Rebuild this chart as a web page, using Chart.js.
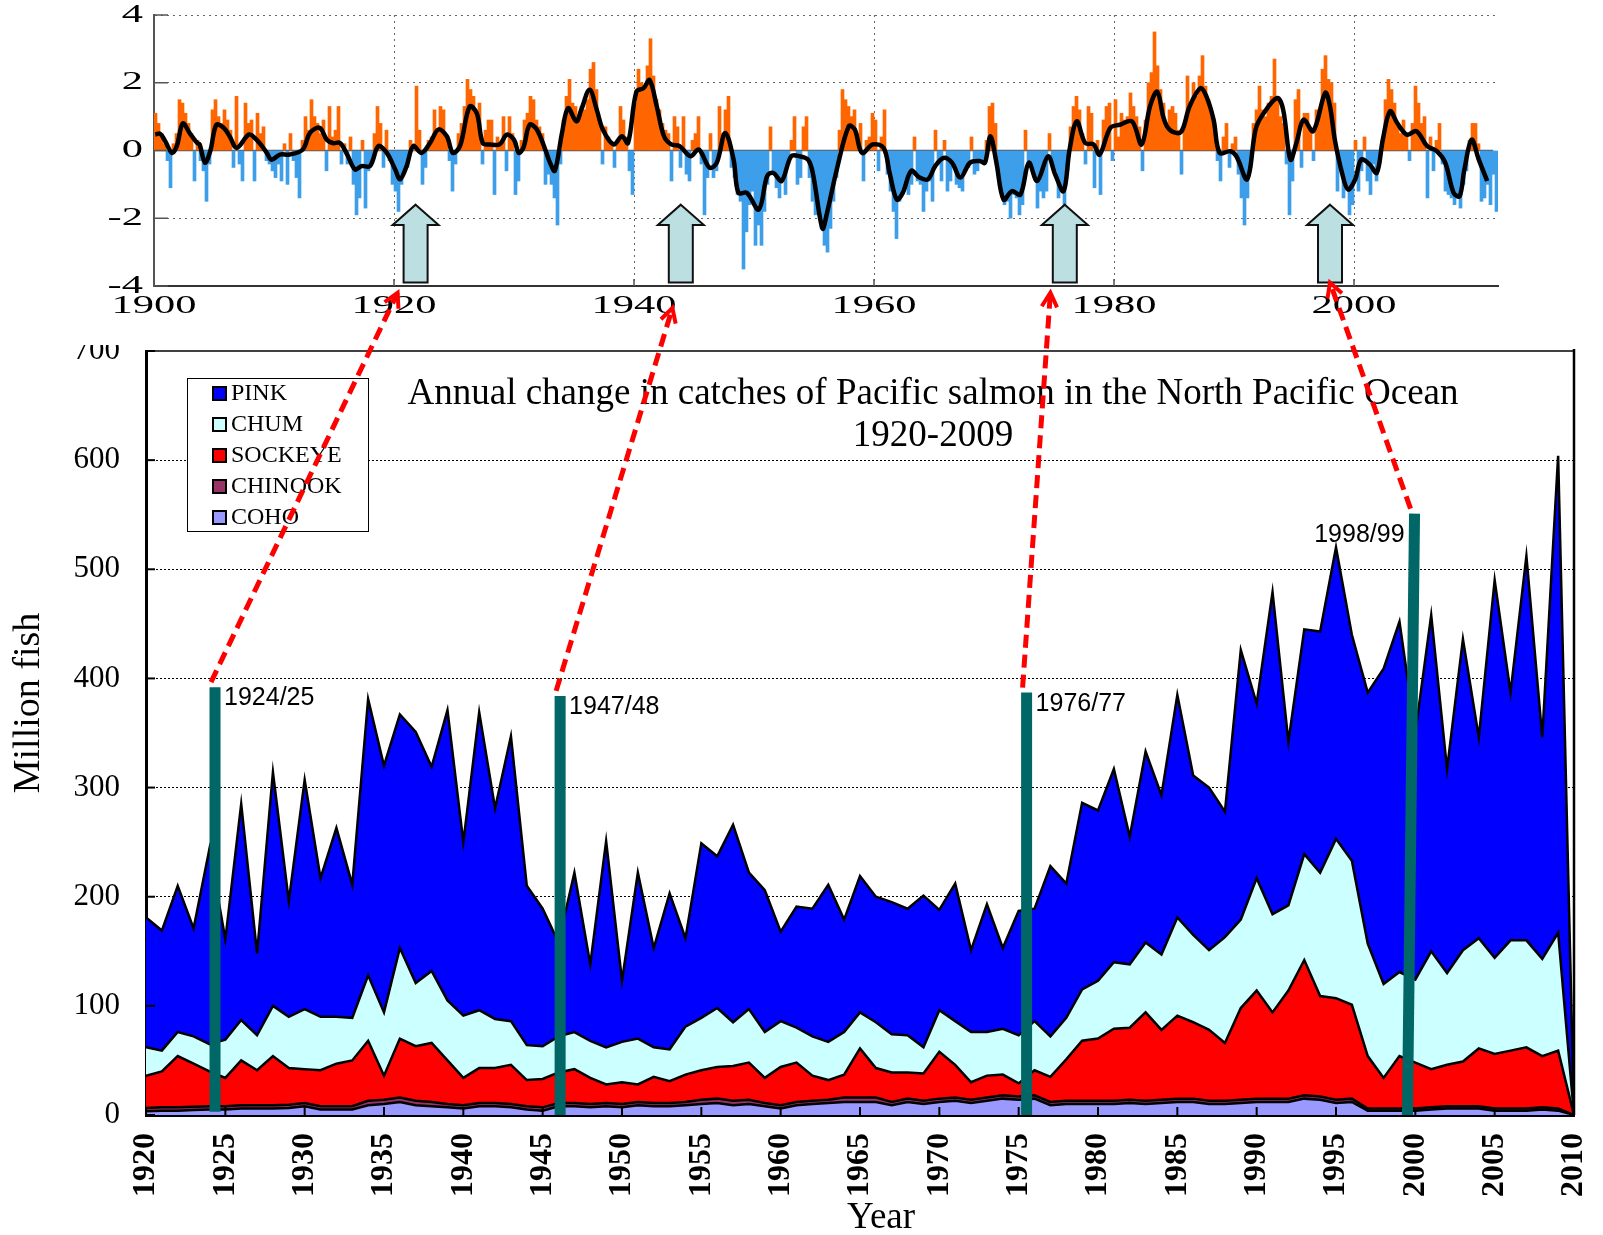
<!DOCTYPE html>
<html>
<head>
<meta charset="utf-8">
<script src="https://cdn.jsdelivr.net/npm/chart.js"></script>
<style>
  html, body { margin: 0; padding: 0; background: #fff; }
  body { width: 1603px; height: 1235px; position: relative; overflow: hidden; }
  #pdo { position: absolute; left: 0; top: 0; }
  #catch { position: absolute; left: 0; top: 345px; }
  #overlay { position: absolute; left: 0; top: 0; pointer-events: none; }
</style>
</head>
<body>
<canvas id="pdo" width="1603" height="330"></canvas>
<canvas id="catch" width="1603" height="890"></canvas>
<canvas id="overlay" width="1603" height="1235"></canvas>
<script>
// ---- PDO index (top panel): 4 values per year, 1900-2011
const pdoFirstYear = 1900;
const pdoQuarterly = [
  1.1, 0.8, 0.5, 0.2,   -0.3, -1.1, 0.2, 0.5,   1.5, 1.4, 1.1, 0.8,   0.5, -0.9, 0.3, -0.3,   -0.6, -1.5, -0.4, 1.2,
  1.5, 1.0, 0.8, 1.2,   0.9, 0.6, -0.5, 1.6,   -0.4, -0.9, 1.4, 0.8,   0.9, -0.9, 1.1, 0.5,   0.7, -0.3, -0.4, -0.6,
  -0.8, -0.4, -0.9, 0.2,   -1.0, 0.5, -0.3, -0.8,   -1.4, 0.3, 1.0, 0.6,   1.5, 1.0, 0.8, 0.5,   0.9, -0.6, 1.3, 0.4,
  0.6, 1.3, -0.4, 0.2,   -0.4, 0.4, -1.0, -1.9,   -1.4, 0.3, -1.7, -0.6,   -0.4, 0.5, 1.3, 0.8,   -0.5, 0.6, -0.3, -1.0,
  -1.2, -1.8, -1.0, -0.6,   -0.5, 0.3, 0.0, 1.9,   0.6, -1.0, -0.5, 0.3,   0.4, 1.2, 0.6, 1.3,   1.2, 0.4, -0.3, -1.2,
  -0.4, 0.5, 0.8, 1.3,   2.1, 1.8, 1.6, 1.0,   1.4, -0.4, 0.6, 0.9,   0.9, -1.3, 0.4, 0.2,   1.0, -0.6, 1.0, 0.5,
  -1.3, -0.9, 0.3, 0.9,   1.1, 1.6, 1.5, 0.9,   0.7, 0.5, -1.0, -0.7,   -1.0, -1.4, -2.2, -0.4,   0.9, 1.6, 2.1, 1.4,
  1.3, 0.9, 1.3, 1.2,   1.5, 2.4, 2.6, 1.8,   0.9, -0.4, 0.7, 0.4,   0.2, -0.5, 0.3, 1.3,   0.9, 0.4, -0.6, -1.3,
  1.4, 2.4, 2.0, 1.8,   2.5, 3.3, 2.2, 1.5,   1.2, 0.8, 0.6, 0.5,   -0.9, 1.0, 0.7, -0.5,   1.0, -0.7, -0.9, 0.3,
  0.5, 1.0, -0.4, -1.9,   -0.8, 0.5, -0.8, -0.6,   1.3, 0.5, 1.2, 1.6,   -0.5, -0.8, -1.3, -1.5,   -3.5, -2.4, -1.6, -1.2,
  -2.8, -2.2, -2.8, -1.8,   -1.0, 0.7, -0.6, -1.1,   -1.4, -0.9, -1.3, -0.4,   0.3, 1.0, -1.0, -0.8,   0.7, 1.0, -0.8, -1.5,
  -1.9, -1.6, -2.3, -2.8,   -3.0, -2.3, -1.5, -0.8,   0.6, 1.8, 1.5, 1.3,   1.0, 1.2, 0.5, 0.8,   -0.9, 0.3, 0.4, 1.1,
  0.9, -0.6, 0.4, 1.2,   -0.7, -1.2, -1.8, -2.6,   -1.5, -1.3, -1.0, -1.3,   -1.0, 0.4, -0.9, -1.0,   -1.8, -1.2, -0.9, -1.5,
  0.6, -0.4, -0.9, 0.3,   -1.2, -0.9, -0.4, -1.0,   -1.1, -1.2, -0.6, -0.5,   0.4, -0.7, -0.6, -0.3,   -0.4, 0.3, 1.3, 1.4,
  0.8, -0.7, -1.2, -1.6,   -1.5, -2.0, -1.3, -1.4,   -1.9, -1.6, 0.6, -0.4,   -0.5, -0.7, -1.7, -1.2,   -1.4, -1.2, 0.5, -0.4,
  -0.6, -1.4, -1.1, -1.8,   -0.6, 0.7, 1.3, 1.6,   1.2, 0.5, -0.4, 1.3,   1.1, -1.1, 0.3, -1.3,   0.9, 1.3, 1.4, -0.3,
  1.5, 0.4, 1.1, 0.9,   1.0, 1.7, 1.3, 1.0,   0.7, -0.6, 0.9, 2.0,   2.3, 3.5, 2.5, 1.8,   1.4, 0.8, 1.2, 1.3,
  1.1, 0.6, -0.7, 0.8,   2.2, 1.3, 2.0, 1.6,   2.2, 2.8, 1.9, 1.5,   1.0, 0.5, -0.3, -0.9,   0.4, 0.8, -0.5, 0.2,
  0.4, -0.7, -1.4, -2.2,   -1.4, -0.5, 0.8, 1.2,   1.9, 1.2, 1.0, 1.4,   1.6, 2.7, 1.5, 1.0,   0.8, -0.4, -1.9, -0.9,
  1.5, 1.8, -0.5, 1.1,   1.1, 0.6, -0.3, 1.2,   1.2, 2.4, 2.8, 2.1,   2.0, 1.4, -1.2, -0.5,   -1.4, -1.0, -1.9, -1.6,
  0.3, -1.2, -0.6, 0.4,   -0.9, -1.3, -0.4, -0.9,   -0.4, 0.3, 1.5, 2.1,   1.8, 1.4, 0.8, 0.5,   0.9, 0.5, -0.3, 0.8,
  1.9, 1.4, 0.8, 1.0,   -1.4, 0.4, -0.6, 0.3,   0.8, -0.4, -1.2, -1.3,   -1.4, -1.6, -1.4, -1.7,   -1.0, -0.6, 0.3, 0.8,
  0.8, 0.2, -1.5, -1.4,   -1.0, -1.6, -0.7, -1.8
];

// smoothed PDO curve (black line)
const pdoSmoothYears = [
  1900.1, 1900.5, 1900.9, 1901.5, 1901.9, 1902.4, 1903.0, 1903.6, 1903.8, 1904.25, 1904.7, 1905.2, 1905.8, 1906.3, 1906.9,
  1907.9, 1908.4, 1909.0, 1909.4, 1909.8, 1910.5, 1911.3, 1912.4, 1913.0, 1913.8, 1914.4, 1914.9, 1915.5, 1916.1, 1916.75,
  1917.3, 1918.0, 1918.7, 1919.4, 1920.1, 1920.5, 1921.05, 1921.6, 1922.3, 1923.0, 1923.7, 1924.4, 1924.9, 1925.5, 1926.3,
  1926.9, 1927.4, 1928.0, 1928.8, 1929.4, 1930.0, 1930.4, 1930.8, 1931.3, 1931.9, 1932.6, 1933.0, 1933.4, 1934.0, 1934.5,
  1935.2, 1935.6, 1936.3, 1936.9, 1937.4, 1938.3, 1939.0, 1939.5, 1940.2, 1940.8, 1941.3, 1941.9, 1942.5, 1943.1, 1943.8,
  1944.7, 1945.4, 1946.3, 1946.9, 1947.6, 1948.3, 1948.7, 1949.4, 1950.4, 1951.1, 1951.6, 1952.3, 1953.1, 1953.8, 1954.5,
  1954.9, 1955.7, 1956.05, 1956.9, 1957.9, 1958.4, 1959.0, 1959.9, 1960.8, 1961.3, 1961.9, 1962.4, 1963.1, 1963.8, 1964.5,
  1965.1, 1965.8, 1966.5, 1967.2, 1968.0, 1968.8, 1969.25, 1969.7, 1970.2, 1970.8, 1971.5, 1972.2, 1972.9, 1973.6, 1974.5,
  1975.1, 1975.8, 1976.3, 1976.9, 1977.6, 1978.3, 1978.8, 1979.7, 1980.5, 1981.5, 1982.3, 1983.0, 1983.6, 1984.1, 1984.4,
  1984.9, 1985.6, 1986.3, 1987.2, 1987.7, 1988.3, 1988.8, 1989.7, 1990.2, 1991.1, 1991.8, 1992.4, 1993.6, 1994.1, 1994.7,
  1995.2, 1995.8, 1996.6, 1997.6, 1998.0, 1998.4, 1999.0, 1999.5, 2000.1, 2000.6, 2001.3, 2001.9, 2002.4, 2003.0, 2003.6,
  2004.4, 2005.2, 2006.1, 2006.9, 2007.6, 2008.3, 2008.8, 2009.2, 2009.8, 2010.4, 2011.1
];
const pdoSmoothValues = [
  0.47, 0.5, 0.3, -0.07, 0.13, 0.8, 0.5, 0.22, 0.18, -0.36, 0.0, 0.76, 0.67, 0.42, 0.08,
  0.47, 0.37, 0.13, -0.07, -0.27, -0.12, -0.12, 0.03, 0.52, 0.67, 0.32, 0.22, 0.22, -0.12, -0.56,
  -0.46, -0.46, 0.13, -0.07, -0.56, -0.85, -0.46, 0.13, -0.07, 0.22, 0.62, 0.42, -0.07, 0.13, 1.3,
  1.1, 0.22, 0.18, 0.18, 0.47, 0.32, -0.07, 0.1, 0.76, 0.62, 0.03, -0.36, -0.6, 0.52, 1.25,
  0.86, 1.2, 1.79, 1.2, 0.62, 0.18, 0.42, 0.22, 1.74, 1.84, 2.08, 1.3, 0.42, 0.18, 0.13,
  -0.17, 0.03, -0.51, -0.36, 0.52, -0.27, -1.25, -1.25, -1.74, -0.75, -0.66, -0.9, -0.17, -0.17, -0.27,
  -0.66, -2.3, -1.9, -0.56, 0.72, 0.62, -0.07, 0.18, 0.08, -0.66, -1.45, -1.25, -0.6, -0.8, -0.85,
  -0.46, -0.22, -0.36, -0.8, -0.36, -0.31, -0.36, 0.42, -0.36, -1.45, -1.2, -1.3, -0.36, -0.9, -0.17,
  -0.71, -1.2, 0.03, 0.86, 0.22, 0.18, -0.12, 0.67, 0.76, 0.86, 0.18, 1.3, 1.74, 1.0, 0.72,
  0.55, 0.55, 1.3, 1.84, 1.6, 0.91, -0.07, -0.02, -0.17, -0.85, 0.62, 1.06, 1.55, 1.2, -0.27,
  0.22, 0.91, 0.57, 1.7, 1.3, 0.32, -0.66, -1.15, -0.85, -0.27, -0.41, -0.66, 0.32, 1.16, 0.81,
  0.47, 0.57, 0.13, -0.02, -0.36, -1.25, -1.35, -0.56, 0.32, -0.27, -0.9
];

// teal "regime shift" arrows in the top panel
const upArrowYears = [1921.8, 1943.9, 1975.9, 1998.0];

// ---- Salmon catches (bottom panel), million fish
const catchYears = Array.from({ length: 91 }, (_, i) => 1920 + i);
const pink = [
  119, 110, 134, 99, 179, 92, 198, 75, 214, 106,
  210, 127, 173, 122, 253, 226, 214, 230, 187, 266,
  159, 273, 193, 261, 146, 126, 86, 146, 70, 189,
  56, 152, 91, 143, 81, 160, 139, 181, 125, 130,
  82, 111, 117, 144, 103, 125, 115, 121, 116, 139,
  92, 126, 75, 117, 74, 114, 103, 156, 123, 171,
  156, 177, 117, 175, 146, 204, 146, 149, 115, 247,
  160, 295, 150, 206, 221, 267, 207, 230, 289, 321,
  226, 308, 187, 285, 184, 346, 227, 352, 203, 437,
  0
];
const chum = [
  26, 19, 22, 25, 25, 35, 37, 32, 46, 47,
  55, 49, 43, 39, 60, 58, 83, 58, 66, 55,
  57, 53, 45, 40, 32, 30, 33, 34, 34, 34,
  37, 42, 27, 29, 44, 48, 54, 40, 49, 42,
  42, 32, 36, 35, 39, 33, 42, 35, 34, 24,
  38, 40, 46, 40, 42, 44, 45, 37, 38, 47,
  53, 61, 58, 64, 69, 90, 80, 73, 97, 81,
  103, 90, 78, 97, 113, 146, 132, 103, 86, 77,
  76, 108, 84, 102, 101, 88, 101, 98, 89, 108,
  0
];
const sockeye = [
  29.5, 33, 47, 39.5, 32, 26, 41, 32, 45, 33.5,
  31, 33, 39, 42, 55, 22, 54, 50, 54, 40,
  25, 32, 32, 36, 24, 26, 28, 31, 24, 17,
  20, 16, 24, 20, 25, 27, 29, 32, 34, 23,
  35, 36, 23, 18, 21, 45, 27, 27, 24, 25,
  43, 30, 16, 20, 19, 12, 23, 23, 38, 55,
  57, 66, 66, 81, 64, 76, 70, 65, 53, 84,
  99, 79, 99, 124, 92, 93, 86, 48, 28, 48,
  42, 35, 38, 41, 53, 50, 53, 56, 47, 53,
  0
];
const chinook = [
  3, 3, 3, 3, 3, 3, 3, 3, 3, 3,
  3, 3, 3, 3, 4, 4, 4, 4, 4, 3,
  3, 3, 3, 3, 3, 3, 3, 3, 3, 3,
  3, 3, 3, 3, 3, 4, 4, 4, 4, 3,
  3, 3, 3, 3, 4, 4, 4, 3, 3, 3,
  3, 3, 3, 3, 3, 3, 3, 3, 3, 3,
  3, 3, 3, 3, 3, 3, 3, 3, 3, 3,
  3, 3, 3, 3, 3, 3, 3, 2, 2, 2,
  2, 2, 2, 2, 2, 2, 2, 2, 2, 2,
  0
];
const coho = [
  3.5, 4, 4, 4.5, 5, 5, 6, 6, 6, 6.5,
  8, 5, 5, 5, 9, 10, 12, 9, 8, 7,
  6, 8, 8, 7, 5, 4, 8, 8, 7, 8,
  7, 9, 8, 8, 9, 10, 11, 9, 10, 8,
  6, 9, 10, 11, 12, 12, 12, 9, 12, 10,
  12, 13, 11, 13, 15, 14, 15, 9, 10, 10,
  10, 10, 11, 10, 11, 12, 12, 10, 10, 11,
  12, 12, 12, 15, 14, 11, 12, 4, 4, 4,
  4, 5, 6, 6, 6, 4, 4, 4, 5, 4,
  0
];

// regime shift markers on the catch chart
const shiftLabels = ['1924/25', '1947/48', '1976/77', '1998/99'];
const shiftTopYears = [1924.35, 1946.1, 1975.5, 1999.95];
const shiftBaseYears = [1924.35, 1946.1, 1975.5, 1999.5];
const shiftTops = [392, 384, 387, 551];
const shiftBases = [3, 0, 0, 0];
const shiftLabelSide = ['right', 'right', 'right', 'left'];

// red dashed links: where they point to in the PDO panel (year, index units)
const linkTipYears = [1920.3, 1943.2, 1974.7, 1998.0];
const linkTipValues = [-4.2, -4.65, -4.2, -3.9];

const ORANGE = '#ff6600';
const LIGHTBLUE = '#3d9fea';
const SERIF = '"Liberation Serif", "Times New Roman", serif';

// ---------- top panel ----------
const pdoBarPoints = pdoQuarterly.map((v, i) => ({ x: pdoFirstYear + (i + 0.5) / 4, y: v }));
const pdoSmoothPoints = pdoSmoothYears.map((yr, i) => ({ x: yr, y: pdoSmoothValues[i] }));

const pdoDecor = {
  id: 'pdoDecor',
  beforeDatasetsDraw(chart) {
    const { ctx, chartArea: a, scales: { x, y } } = chart;
    ctx.save();
    ctx.strokeStyle = '#555';
    ctx.lineWidth = 1.5;
    const y0 = y.getPixelForValue(0);
    ctx.beginPath();
    ctx.moveTo(a.left, y0);
    ctx.lineTo(x.getPixelForValue(2011.6), y0);
    ctx.stroke();
    ctx.restore();
  },
  afterDatasetsDraw(chart) {
    const { ctx, scales: { x, y } } = chart;
    ctx.save();
    ctx.fillStyle = '#bcdfe1';
    ctx.strokeStyle = '#111';
    ctx.lineWidth = 2;
    upArrowYears.forEach(yr => {
      const cx = x.getPixelForValue(yr);
      const tip = y.getPixelForValue(-1.6);
      const neck = y.getPixelForValue(-2.2);
      const base = y.getPixelForValue(-3.9);
      ctx.beginPath();
      ctx.moveTo(cx, tip);
      ctx.lineTo(cx + 23, neck);
      ctx.lineTo(cx + 12, neck);
      ctx.lineTo(cx + 12, base);
      ctx.lineTo(cx - 12, base);
      ctx.lineTo(cx - 12, neck);
      ctx.lineTo(cx - 23, neck);
      ctx.closePath();
      ctx.fill();
      ctx.stroke();
    });
    ctx.restore();
  },
  afterDraw(chart) {
    const { ctx, chartArea: a, scales: { x, y } } = chart;
    ctx.save();
    // short inner ticks
    ctx.strokeStyle = '#555';
    ctx.lineWidth = 1.5;
    y.ticks.forEach(t => {
      const py = y.getPixelForValue(t.value);
      ctx.beginPath(); ctx.moveTo(a.left, py); ctx.lineTo(a.left + 14, py); ctx.stroke();
    });
    x.ticks.forEach(t => {
      if (t.value % 20 !== 0) return;
      const px = x.getPixelForValue(t.value);
      ctx.beginPath(); ctx.moveTo(px, a.bottom); ctx.lineTo(px, a.bottom - 7); ctx.stroke();
    });
    // wide serif tick labels
    ctx.fillStyle = '#000';
    ctx.font = '25px ' + SERIF;
    ctx.textBaseline = 'middle';
    x.ticks.forEach(t => {
      if (t.value % 20 !== 0) return;
      ctx.save();
      ctx.translate(x.getPixelForValue(t.value), a.bottom + 20);
      ctx.scale(1.7, 1);
      ctx.textAlign = 'center';
      ctx.fillText(String(t.value), 0, 0);
      ctx.restore();
    });
    y.ticks.forEach(t => {
      ctx.save();
      ctx.translate(a.left - 11, y.getPixelForValue(t.value));
      ctx.scale(1.7, 1);
      ctx.textAlign = 'right';
      ctx.fillText(String(t.value), 0, 0);
      ctx.restore();
    });
    ctx.restore();
  }
};

const pdoChart = new Chart(document.getElementById('pdo'), {
  type: 'bar',
  data: {
    datasets: [
      {
        type: 'line',
        data: pdoSmoothPoints,
        borderColor: '#000',
        borderWidth: 4.5,
        pointRadius: 0,
        tension: 0.35,
        order: -1
      },
      {
        type: 'bar',
        data: pdoBarPoints,
        backgroundColor: c => (c.raw && c.raw.y >= 0) ? ORANGE : LIGHTBLUE,
        barPercentage: 1,
        categoryPercentage: 1
      }
    ]
  },
  options: {
    responsive: false,
    animation: false,
    layout: { autoPadding: false, padding: { top: 15, right: 105, left: 0, bottom: 0 } },
    plugins: { legend: { display: false }, tooltip: { enabled: false } },
    scales: {
      x: {
        type: 'linear', min: 1900, max: 2012, offset: false,
        ticks: { display: false, stepSize: 20, includeBounds: false },
        grid: {
          offset: false, drawTicks: false, lineWidth: 1,
          color: c => (c.tick.value > 1900 && c.tick.value < 2011) ? '#666' : 'rgba(0,0,0,0)'
        },
        border: { display: true, color: '#333', width: 2, dash: [2, 4] },
        afterFit: s => { s.height = 44; s.paddingLeft = 0; s.paddingRight = 0; }
      },
      y: {
        min: -4, max: 4,
        ticks: { display: false, stepSize: 2 },
        grid: {
          drawTicks: false, lineWidth: 1,
          color: c => (c.tick.value === 0 || c.tick.value === -4) ? 'rgba(0,0,0,0)' : '#666'
        },
        border: { display: true, color: '#555', width: 2, dash: [2, 4] },
        afterFit: s => { s.width = 154; s.paddingTop = 0; s.paddingBottom = 0; }
      }
    }
  },
  plugins: [pdoDecor]
});

// ---------- bottom panel ----------
function pts(values) {
  return catchYears.map((yr, i) => ({ x: yr, y: values[i] }));
}

const species = [
  { label: 'COHO', values: coho, color: '#9999ff' },
  { label: 'CHINOOK', values: chinook, color: '#993366' },
  { label: 'SOCKEYE', values: sockeye, color: '#ff0000' },
  { label: 'CHUM', values: chum, color: '#ccffff' },
  { label: 'PINK', values: pink, color: '#0000ff' }
];

const areaSets = species.map((s, i) => ({
  label: s.label,
  data: pts(s.values),
  backgroundColor: s.color,
  borderColor: '#000',
  borderWidth: 2.5,
  pointRadius: 0,
  tension: 0,
  fill: i === 0 ? 'origin' : '-1'
}));

const shiftSets = shiftTopYears.map((yr, i) => ({
  label: shiftLabels[i],
  data: [{ x: shiftBaseYears[i], y: shiftBases[i] }, { x: yr, y: shiftTops[i] }],
  borderColor: '#006666',
  borderWidth: 11,
  borderCapStyle: 'butt',
  pointRadius: 0,
  fill: false,
  stack: 'shift' + i,
  order: -1
}));

const catchDecor = {
  id: 'catchDecor',
  afterDraw(chart) {
    const { ctx, chartArea: a, scales: { x, y } } = chart;
    ctx.save();
    // top and right frame
    ctx.strokeStyle = '#000';
    ctx.lineWidth = 1.5;
    ctx.beginPath();
    ctx.moveTo(a.left, a.top); ctx.lineTo(a.right, a.top);
    ctx.stroke();
    ctx.lineWidth = 2.5;
    ctx.beginPath();
    ctx.moveTo(a.right, a.top - 2); ctx.lineTo(a.right, a.bottom);
    ctx.stroke();
    // inner ticks
    ctx.lineWidth = 2;
    x.ticks.forEach(t => {
      const px = x.getPixelForValue(t.value);
      ctx.beginPath(); ctx.moveTo(px, a.bottom); ctx.lineTo(px, a.bottom - 8); ctx.stroke();
    });
    y.ticks.forEach(t => {
      const py = y.getPixelForValue(t.value);
      ctx.beginPath(); ctx.moveTo(a.left, py); ctx.lineTo(a.left + 9, py); ctx.stroke();
    });

    // axis titles (placed as in the original, a bit off-centre)
    ctx.fillStyle = '#000';
    ctx.font = '37px ' + SERIF;
    ctx.textAlign = 'center';
    ctx.textBaseline = 'middle';
    ctx.fillText('Year', a.left + 735, chart.height - 17);
    ctx.save();
    ctx.translate(29, a.top + 352);
    ctx.rotate(-Math.PI / 2);
    ctx.font = '38px ' + SERIF;
    ctx.fillText('Million fish', 0, 0);
    ctx.restore();

    // title inside the plot
    ctx.font = '37px ' + SERIF;
    const tx = a.left + 787;
    ctx.fillText('Annual change in catches of Pacific salmon in the North Pacific Ocean', tx, a.top + 43);
    ctx.fillText('1920-2009', tx, a.top + 85);

    // legend box
    const lx = a.left + 41, ly = a.top + 27;
    ctx.fillStyle = '#fff';
    ctx.fillRect(lx, ly, 181, 153);
    ctx.strokeStyle = '#000';
    ctx.lineWidth = 1;
    ctx.strokeRect(lx + 0.5, ly + 0.5, 181, 153);
    ctx.font = '24px ' + SERIF;
    ctx.textAlign = 'left';
    species.slice().reverse().forEach((s, i) => {
      const ry = ly + 15 + i * 31;
      ctx.fillStyle = s.color;
      ctx.fillRect(lx + 26, ry - 6, 13, 13);
      ctx.lineWidth = 2;
      ctx.strokeRect(lx + 26, ry - 6, 13, 13);
      ctx.fillStyle = '#000';
      ctx.fillText(s.label, lx + 44, ry + 1);
    });

    // labels beside the shift bars
    ctx.font = '25px "Liberation Sans", Arial, sans-serif';
    shiftTopYears.forEach((yr, i) => {
      const px = x.getPixelForValue(yr);
      const py = y.getPixelForValue(shiftTops[i]);
      if (shiftLabelSide[i] === 'right') {
        ctx.textAlign = 'left';
        ctx.fillText(shiftLabels[i], px + 9, py + 11);
      } else {
        ctx.textAlign = 'right';
        ctx.fillText(shiftLabels[i], px - 10, py + 21);
      }
    });
    ctx.restore();
  }
};

const catchChart = new Chart(document.getElementById('catch'), {
  type: 'line',
  data: { datasets: areaSets.concat(shiftSets) },
  options: {
    responsive: false,
    animation: false,
    layout: { autoPadding: false, padding: { top: 6, right: 29, left: 0, bottom: 0 } },
    plugins: { legend: { display: false }, tooltip: { enabled: false }, filler: { propagate: false } },
    scales: {
      x: {
        type: 'linear', min: 1920, max: 2010,
        ticks: {
          stepSize: 5, autoSkip: false, minRotation: 90, maxRotation: 90, padding: 18,
          color: '#000', font: { family: SERIF, size: 32, weight: 'bold' },
          callback: v => String(v)
        },
        grid: { drawOnChartArea: false, drawTicks: false },
        border: { display: true, color: '#000', width: 3 },
        afterFit: s => { s.height = 120; s.paddingLeft = 0; s.paddingRight = 0; }
      },
      y: {
        stacked: true, min: 0, max: 700,
        ticks: { stepSize: 100, padding: 26, color: '#000', font: { family: SERIF, size: 31 } },
        grid: {
          drawTicks: false, lineWidth: 1,
          color: c => (c.tick.value === 0 || c.tick.value === 700) ? 'rgba(0,0,0,0)' : '#000'
        },
        border: { display: true, color: '#000', width: 3, dash: [2, 2] },
        afterFit: s => { s.width = 146; s.paddingTop = 0; s.paddingBottom = 0; }
      }
    }
  },
  plugins: [catchDecor]
});

// ---------- red dashed links between the two panels ----------
function drawLinks() {
  const ov = document.getElementById('overlay').getContext('2d');
  const topOff = document.getElementById('pdo').offsetTop;
  const botOff = document.getElementById('catch').offsetTop;
  const tx = pdoChart.scales.x, ty = pdoChart.scales.y;
  const bx = catchChart.scales.x, by = catchChart.scales.y;
  ov.clearRect(0, 0, 1603, 1235);
  ov.strokeStyle = '#ff0000';
  ov.lineCap = 'butt';
  shiftTopYears.forEach((yr, i) => {
    const x0 = bx.getPixelForValue(yr) - 4;
    const y0 = by.getPixelForValue(shiftTops[i]) + botOff - 5;
    const x1 = tx.getPixelForValue(linkTipYears[i]);
    const y1 = ty.getPixelForValue(linkTipValues[i]) + topOff;
    ov.lineWidth = 5;
    ov.setLineDash([13, 7]);
    ov.beginPath();
    ov.moveTo(x0, y0);
    ov.lineTo(x1, y1);
    ov.stroke();
    // arrow head
    const ang = Math.atan2(y1 - y0, x1 - x0);
    ov.setLineDash([]);
    ov.lineWidth = 4;
    ov.beginPath();
    ov.moveTo(x1 - 16 * Math.cos(ang - 0.5), y1 - 16 * Math.sin(ang - 0.5));
    ov.lineTo(x1, y1);
    ov.lineTo(x1 - 16 * Math.cos(ang + 0.5), y1 - 16 * Math.sin(ang + 0.5));
    ov.stroke();
  });
}
drawLinks();
</script>
</body>
</html>
